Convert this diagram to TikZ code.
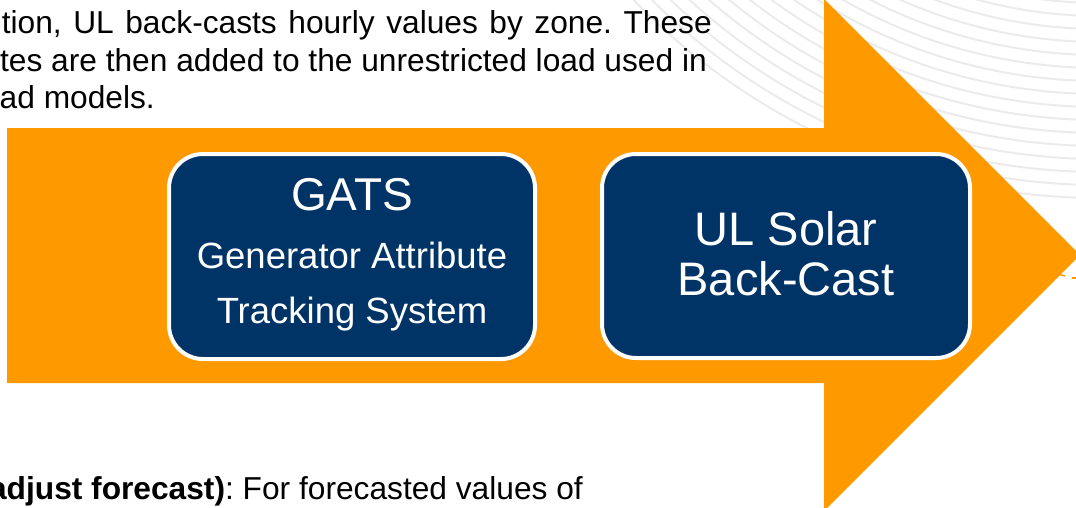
\documentclass[tikz,border=0pt]{standalone}
\usepackage{fontspec}
\setmainfont{Liberation Sans}
\frenchspacing
\definecolor{arroworange}{HTML}{FF9900}
\definecolor{boxnavy}{HTML}{003366}
\definecolor{arcgray}{HTML}{EBEBEB}
\tikzset{
  stepbox/.style={fill=boxnavy, draw=white, line width=4pt, rounded corners=34pt},
  bodytext/.style={inner sep=0pt, font=\fontsize{31.7}{38}\selectfont, text=black},
  boxtitle/.style={inner sep=0pt, font=\fontsize{46}{50}\selectfont, text=white},
  boxsub/.style={inner sep=0pt, font=\fontsize{36.5}{42}\selectfont, text=white},
  deco/.style={draw=arcgray, line width=2pt}
}
\begin{document}
\begin{tikzpicture}[x=1pt, y=-1pt]
\useasboundingbox (0,0) rectangle (1076,507);
\clip (0,0) rectangle (1076,507);
% decorative background arcs
\foreach \r in {440,453,...,660} {
  \draw[deco] (1100,-450) ++(180:\r) arc[start angle=180, end angle=90, radius=\r];
}
% big arrow
\fill[arroworange] (7,128) -- (824,128) -- (824,-1) -- (1080,255) -- (824,511) -- (824,383) -- (7,383) -- cycle;
\draw[arroworange, line width=1.5pt] (1058,274) -- (1065,276);
\draw[arroworange, line width=1.5pt] (1072,278) -- (1076,278);
% boxes
\draw[stepbox] (169,154) rectangle (535,359);
\draw[stepbox] (602,154) rectangle (970,358);
\node[boxtitle, anchor=base] (gats) at (352,210) {GATS};
\node[boxsub, anchor=base] (gen) at (352,268) {Generator Attribute};
\node[boxsub, anchor=base] (trk) at (352,323) {Tracking System};
\node[boxtitle, anchor=base, font=\fontsize{47}{50}\selectfont] (ul1) at (786,245) {UL Solar};
\node[boxtitle, anchor=base, font=\fontsize{47}{50}\selectfont] (ul2) at (786,295) {Back-Cast};
% text
\node[bodytext, anchor=base east] (t1) at (712,33) {\makebox[710pt][s]{tion, UL back-casts hourly values by zone. These}};
\node[bodytext, anchor=base east] (t2) at (707,71) {tes are then added to the unrestricted load used in};
\node[bodytext, anchor=base east] (t3) at (155,108) {ad models.};
\node[bodytext, anchor=base east] (t4) at (583,499) {\textbf{(adjust forecast)}: For forecasted values of};
\end{tikzpicture}
\end{document}
